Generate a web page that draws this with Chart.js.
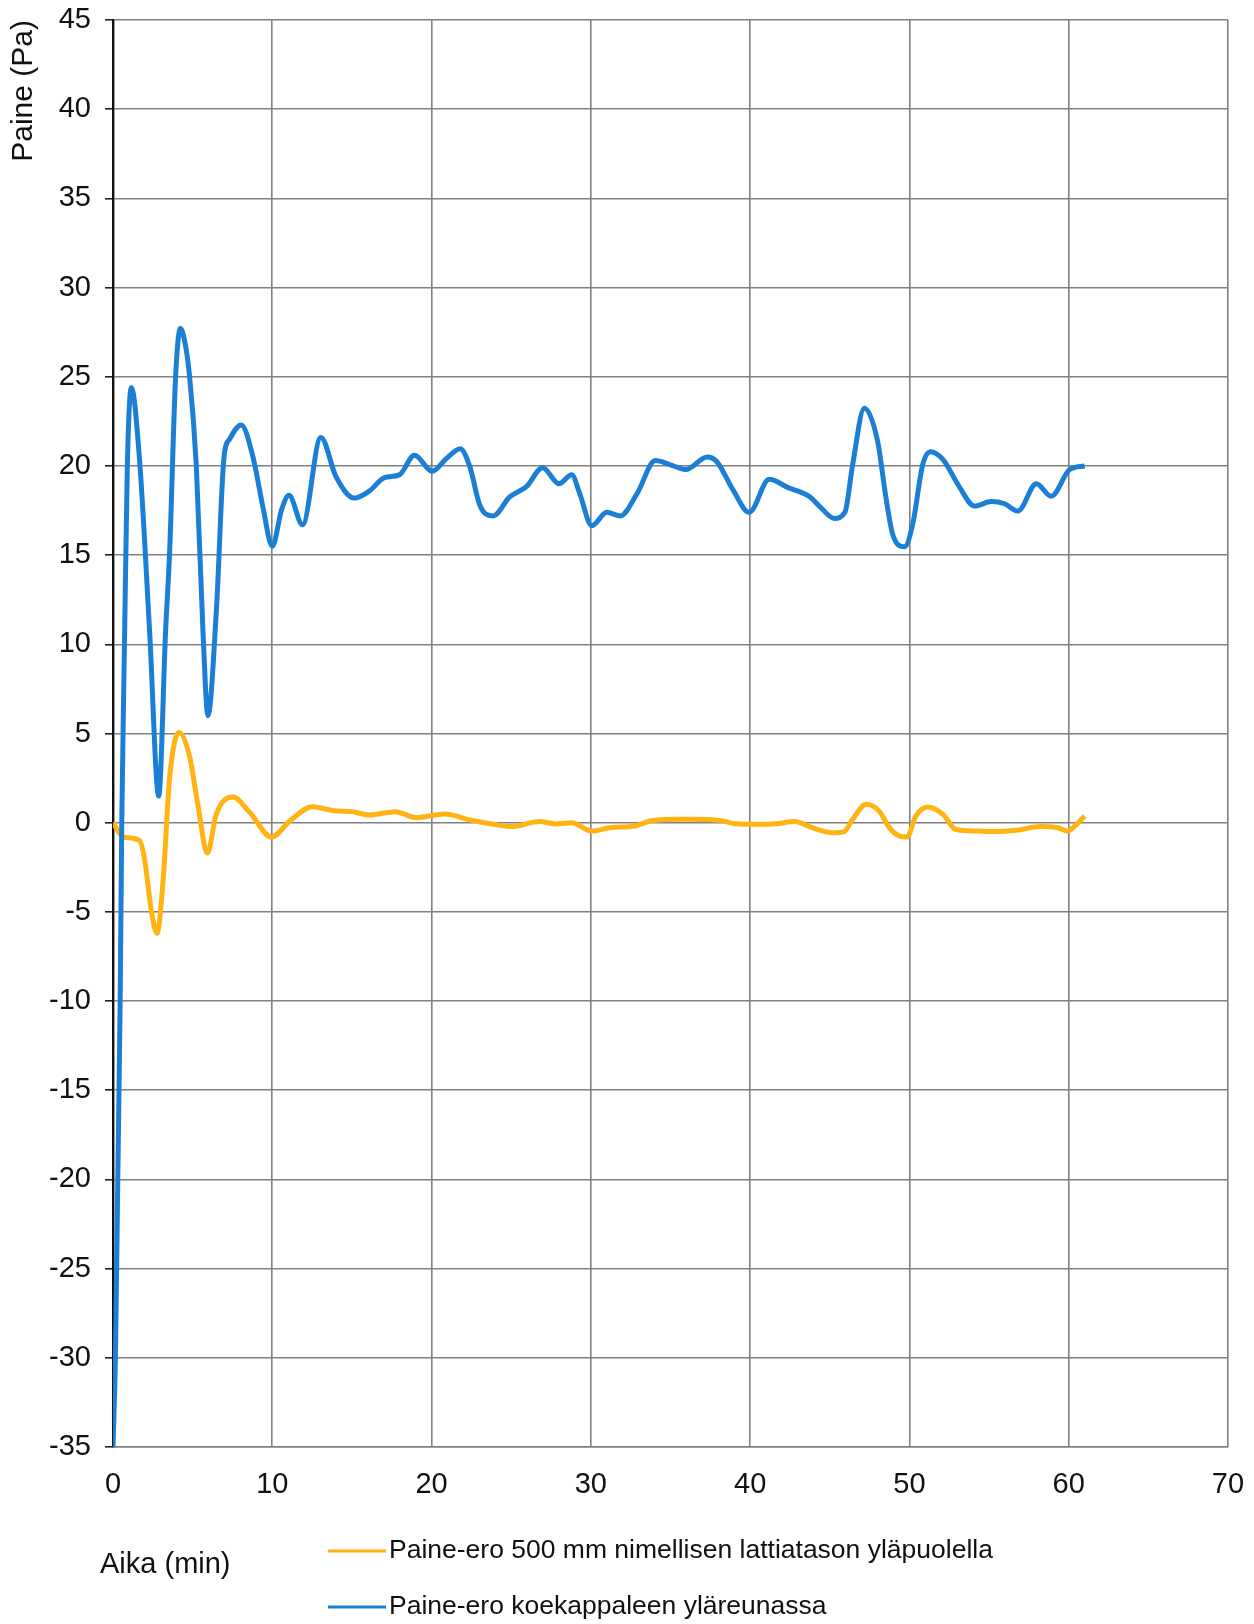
<!DOCTYPE html>
<html>
<head>
<meta charset="utf-8">
<script src="https://cdn.jsdelivr.net/npm/chart.js@4.4.0/dist/chart.umd.min.js"></script>
<style>
  html, body { margin: 0; padding: 0; background: #fff; }
  #wrap { width: 1254px; height: 1624px; position: relative; }
</style>
</head>
<body>
<div id="wrap"><canvas id="c" width="1254" height="1624"></canvas></div>
<script>
// ---- Data ----
const seriesLabels = [
  "Paine-ero 500 mm nimellisen lattiatason yläpuolella",
  "Paine-ero koekappaleen yläreunassa"
];
const xTitle = "Aika (min)";
const yTitle = "Paine (Pa)";
const xTicks = [0, 10, 20, 30, 40, 50, 60, 70];
const yTicks = [-35, -30, -25, -20, -15, -10, -5, 0, 5, 10, 15, 20, 25, 30, 35, 40, 45];

const timeOrange = [0, 0.63, 1.67, 1.99, 2.4, 2.76, 3.14, 3.56, 4.14, 4.81, 5.33, 5.92, 6.49, 7.53, 8.58, 9.94,
  11.17, 12.52, 13.87, 15.0, 16.1, 17.7, 19.04, 20.84, 22.42, 23.77, 25.0, 26.8, 27.8, 28.8, 30.05, 31.2,
  32.77, 33.8, 35.77, 38.08, 39.1, 40.6, 41.6, 42.8, 43.9, 45.2, 45.9, 46.44, 47.28, 48.1, 48.74, 49.37,
  49.85, 50.4, 51.15, 52.1, 52.9, 54.2, 55.4, 56.7, 58.2, 59.3, 59.9, 60.5, 61.0];
const valOrange = [0, -0.8, -1.0, -2.1, -4.9, -6.2, -3.3, 2.56, 5.05, 3.7, 1.0, -1.7, 0.5, 1.44, 0.58, -0.8,
  0.15, 0.9, 0.67, 0.62, 0.43, 0.62, 0.28, 0.49, 0.15, -0.07, -0.22, 0.06, -0.07, 0, -0.47, -0.28,
  -0.19, 0.11, 0.19, 0.13, -0.06, -0.09, -0.06, 0.06, -0.28, -0.56, -0.5, 0.19, 1.03, 0.65, -0.28, -0.75,
  -0.8, 0.37, 0.88, 0.47, -0.37, -0.47, -0.5, -0.43, -0.22, -0.28, -0.47, -0.09, 0.37];

const timeBlue = [0, 0.15, 0.3, 0.45, 0.55, 0.72, 0.9, 1.15, 1.67, 2.3, 2.87, 3.3, 3.56, 3.93, 4.23, 4.5, 4.81, 5.23,
  5.65, 5.96, 6.49, 6.97, 7.32, 8.05, 8.79, 9.41, 10.0, 10.6, 11.05, 11.9, 13.05, 14.0, 15.15, 16.1,
  17.04, 17.98, 18.93, 20.04, 20.92, 21.8, 22.4, 23.03, 23.87, 24.9, 25.97, 26.97, 28.0, 28.8, 29.3,
  30.06, 31.0, 31.85, 32.9, 34.05, 35.0, 35.95, 37.3, 37.9, 38.9, 39.94, 41.2, 42.35, 43.7, 44.44,
  45.28, 45.95, 46.44, 47.17, 48.0, 48.53, 48.95, 49.69, 50.2, 50.84, 51.32, 52.1, 53.04, 54.09,
  55.14, 55.97, 56.81, 57.97, 58.9, 60.06, 61.0];
const valBlue = [-35, -30, -20, -10, 0, 10, 20, 24.4, 20.3, 10.7, 1.5, 10.7, 15.3, 25, 27.7, 27.0, 25, 20,
  10.7, 6.0, 11.9, 20.5, 21.5, 22.3, 20.5, 17.7, 15.5, 17.6, 18.35, 16.7, 21.6, 19.4, 18.2, 18.6,
  19.35, 19.5, 20.6, 19.7, 20.4, 20.97, 19.96, 17.8, 17.2, 18.26, 18.86, 19.9, 19.0, 19.5, 18.45,
  16.65, 17.4, 17.2, 18.45, 20.3, 20.06, 19.8, 20.5, 20.25, 18.7, 17.4, 19.25, 18.8, 18.3, 17.66,
  17.06, 17.4, 20.1, 23.24, 21.4, 18.2, 16.16, 15.47, 16.7, 20.1, 20.8, 20.37, 18.97, 17.75,
  18.0, 17.88, 17.47, 19.0, 18.3, 19.8, 20.0];

const colorOrange = '#ffb414';
const colorBlue = '#1b7fd5';

const toPts = (xs, ys) => xs.map((x, i) => ({ x: x, y: ys[i] }));

const FONT = '"Liberation Sans", Arial, sans-serif';

const legendPlugin = {
  id: 'customLegend',
  afterDraw(chart) {
    const ctx = chart.ctx;
    ctx.save();
    ctx.fillStyle = '#111';
    ctx.textBaseline = 'middle';
    ctx.textAlign = 'left';
    ctx.font = '29px ' + FONT;
    ctx.fillText(xTitle, 100, 1565);
    ctx.font = '26.5px ' + FONT;
    const rows = [1551, 1607];
    chart.data.datasets.forEach((ds, i) => {
      const y = rows[i];
      ctx.strokeStyle = ds.borderColor;
      ctx.lineWidth = 3;
      ctx.beginPath();
      ctx.moveTo(328, y);
      ctx.lineTo(386, y);
      ctx.stroke();
      ctx.fillStyle = '#111';
      ctx.fillText(ds.label, 389, y);
    });
    ctx.restore();
  }
};

new Chart(document.getElementById('c'), {
  type: 'line',
  data: {
    datasets: [
      { label: seriesLabels[0], data: toPts(timeOrange, valOrange), borderColor: colorOrange,
        backgroundColor: colorOrange, borderWidth: 5, pointRadius: 0, cubicInterpolationMode: 'monotone', order: 1 },
      { label: seriesLabels[1], data: toPts(timeBlue, valBlue), borderColor: colorBlue,
        backgroundColor: colorBlue, borderWidth: 5, pointRadius: 0, cubicInterpolationMode: 'monotone', order: 0 }
    ]
  },
  options: {
    responsive: false,
    animation: false,
    layout: { padding: { top: 20, right: 26, left: 0, bottom: 0 } },
    plugins: { legend: { display: false }, tooltip: { enabled: false } },
    scales: {
      x: {
        type: 'linear', min: 0, max: 70,
        afterFit(scale) { scale.height = 177; scale.paddingLeft = 0; scale.paddingRight = 0; },
        afterBuildTicks(scale) { scale.ticks = xTicks.map(v => ({ value: v })); },
        grid: { color: '#808080', lineWidth: 1.6, drawTicks: false },
        border: { color: '#808080', width: 1.6 },
        ticks: { color: '#111', font: { family: FONT, size: 29 }, padding: 21, maxRotation: 0 }
      },
      y: {
        type: 'linear', min: -35, max: 45,
        afterFit(scale) { scale.width = 113; scale.paddingTop = 0; scale.paddingBottom = 0; },
        afterBuildTicks(scale) { scale.ticks = yTicks.map(v => ({ value: v })); },
        grid: { color: '#808080', lineWidth: 1.6, tickLength: 8, tickColor: '#222' },
        border: { color: '#111', width: 2.4 },
        ticks: { color: '#111', font: { family: FONT, size: 29 }, padding: 14 },
        title: { display: true, text: yTitle, align: 'end', color: '#111',
                 font: { family: FONT, size: 30 }, padding: { top: 6, bottom: 0 } }
      }
    }
  },
  plugins: [legendPlugin]
});
</script>
</body>
</html>
